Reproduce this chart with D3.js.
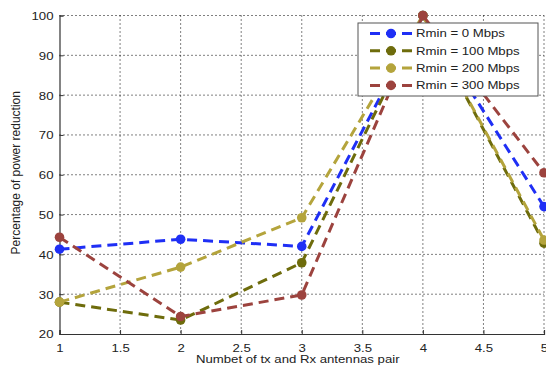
<!DOCTYPE html>
<html>
<head>
<meta charset="utf-8">
<script src="https://cdn.jsdelivr.net/npm/d3@7"></script>
<style>
  body { margin: 0; background: #fff; }
  text { font-family: "Liberation Sans", Arial, sans-serif; fill: #222; }
</style>
</head>
<body>
<div id="chart"></div>
<script>
const xValues = [1, 2, 3, 4, 5];
const xTicks = [1, 1.5, 2, 2.5, 3, 3.5, 4, 4.5, 5];
const yTicks = [20, 30, 40, 50, 60, 70, 80, 90, 100];
const seriesNames = ["Rmin = 0 Mbps", "Rmin = 100 Mbps", "Rmin = 200 Mbps", "Rmin = 300 Mbps"];
const seriesColors = ["#1f2ff5", "#6e6c0c", "#b4a43c", "#9c433e"];
const rmin0 = [41.3, 43.8, 42.0, 100, 52.0];
const rmin100 = [28.0, 23.5, 37.9, 100, 42.8];
const rmin200 = [28.0, 36.8, 49.2, 100, 43.6];
const rmin300 = [44.3, 24.4, 29.8, 100, 60.5];
const seriesValues = [rmin0, rmin100, rmin200, rmin300];

const width = 546, height = 369;
const margin = { top: 15.5, right: 2, bottom: 35, left: 59.5 };
const w = width - margin.left - margin.right;
const h = height - margin.top - margin.bottom;
const stretch = "scale(1.2,1)";

const svg = d3.select("#chart").append("svg")
  .attr("width", width)
  .attr("height", height);

const g = svg.append("g")
  .attr("transform", `translate(${margin.left},${margin.top})`);

const x = d3.scaleLinear().domain([1, 5]).range([0, w]);
const y = d3.scaleLinear().domain([20, 100]).range([h, 0]);

// dotted grid
g.append("g").selectAll("line").data(xTicks.slice(1)).join("line")
  .attr("x1", d => x(d)).attr("x2", d => x(d))
  .attr("y1", 0).attr("y2", h)
  .attr("stroke", "#000").attr("stroke-width", 1)
  .attr("stroke-dasharray", "1,3");
g.append("g").selectAll("line").data(yTicks.slice(1)).join("line")
  .attr("x1", 0).attr("x2", w)
  .attr("y1", d => y(d)).attr("y2", d => y(d))
  .attr("stroke", "#000").attr("stroke-width", 1)
  .attr("stroke-dasharray", "1,3");

// axes
const xAxis = g.append("g").attr("transform", `translate(0,${h})`)
  .call(d3.axisBottom(x).tickValues(xTicks).tickFormat(d3.format("")).tickSize(-4).tickPadding(10));
const yAxis = g.append("g")
  .call(d3.axisLeft(y).tickValues(yTicks).tickSize(-4).tickPadding(6));
[xAxis, yAxis].forEach(a => {
  a.select(".domain").attr("stroke", "#333").attr("stroke-width", 1.2);
  a.selectAll(".tick line").attr("stroke", "#333");
  a.selectAll("text").attr("font-size", 11).attr("fill", "#222")
    .style("font-family", "'Liberation Sans', Arial, sans-serif");
});
xAxis.selectAll("text").attr("transform", stretch);
yAxis.selectAll("text").attr("x", -5).attr("dy", "0.36em").attr("transform", stretch);

// series
const line = d3.line().x((d, i) => x(xValues[i])).y(d => y(d));
seriesValues.forEach((vals, k) => {
  g.append("path").datum(vals)
    .attr("d", line)
    .attr("fill", "none")
    .attr("stroke", seriesColors[k])
    .attr("stroke-width", 3)
    .attr("stroke-dasharray", "10,6");
  g.append("g").selectAll("circle").data(vals).join("circle")
    .attr("cx", (d, i) => x(xValues[i]))
    .attr("cy", d => y(d))
    .attr("r", 4.8)
    .attr("fill", seriesColors[k]);
});

// axis labels
svg.append("g")
  .attr("transform", `translate(${margin.left + w / 2 - 4},${height - 6}) ${stretch}`)
  .append("text")
  .attr("text-anchor", "middle")
  .attr("font-size", 11)
  .text("Numbet of tx and Rx antennas pair");

svg.append("g")
  .attr("transform", `translate(20,${margin.top + h / 2 - 2}) rotate(-90)`)
  .append("text")
  .attr("text-anchor", "middle")
  .attr("font-size", 12)
  .text("Percentage of power reduction");

// legend
const legend = svg.append("g").attr("transform", "translate(358,23)");
legend.append("rect")
  .attr("width", 180).attr("height", 73)
  .attr("fill", "#fff").attr("stroke", "#555").attr("stroke-width", 1);
seriesNames.forEach((name, k) => {
  const ly = 10.5 + k * 17.3;
  legend.append("line")
    .attr("x1", 12).attr("x2", 54).attr("y1", ly).attr("y2", ly)
    .attr("stroke", seriesColors[k]).attr("stroke-width", 3)
    .attr("stroke-dasharray", "10,6");
  legend.append("circle")
    .attr("cx", 33).attr("cy", ly).attr("r", 4.8)
    .attr("fill", seriesColors[k]);
  legend.append("g")
    .attr("transform", `translate(58,${ly}) ${stretch}`)
    .append("text")
    .attr("dy", "0.36em")
    .attr("font-size", 11)
    .text(name);
});
</script>
</body>
</html>
